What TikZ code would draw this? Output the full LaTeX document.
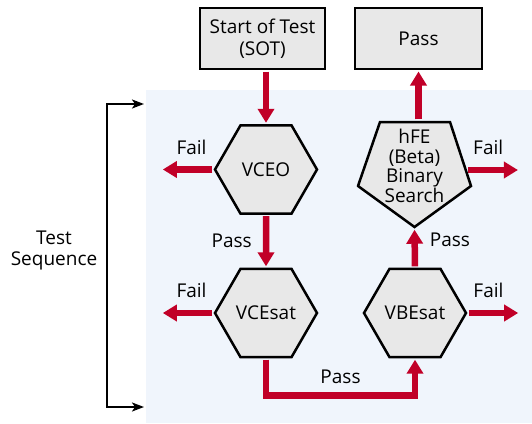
\documentclass[tikz,border=0pt]{standalone}
\usepackage{fontspec}
\setmainfont{Open Sans}
\usetikzlibrary{shapes.geometric,arrows.meta}
\definecolor{flowred}{RGB}{193,0,40}
\definecolor{stepgray}{RGB}{232,232,232}
\definecolor{seqblue}{RGB}{240,245,252}

\begin{document}
\begin{tikzpicture}[x=1pt, y=-1pt, >=Stealth, font=\fontsize{19}{22}\selectfont,
		boxstep/.style={rectangle, draw, line width=2.5pt, fill=stepgray, align=center,
			minimum width=125pt, minimum height=61pt, inner sep=0pt},
		hexstep/.style={regular polygon, regular polygon sides=6, draw, line width=2.5pt,
			fill=stepgray, minimum size=102pt, inner sep=0pt},
		pentstep/.style={rectangle, inner sep=0pt, align=center, minimum width=115.5pt,
			minimum height=107.5pt, font=\fontsize{19}{19.5}\selectfont, text depth=17pt, path picture={
			\draw[line width=2.5pt, fill=stepgray]
				([xshift=23.25pt,yshift=-1.25pt]path picture bounding box.north west)
				-- ([xshift=-22.25pt,yshift=-1.25pt]path picture bounding box.north east)
				-- ([xshift=-1.25pt,yshift=-65.25pt]path picture bounding box.north east)
				-- ([yshift=1.25pt]path picture bounding box.south)
				-- ([xshift=1.25pt,yshift=-65.25pt]path picture bounding box.north west) -- cycle;}},
		flow/.style={draw=flowred, line width=6.5pt, shorten <=1.25pt, shorten >=1.25pt,
			-{Triangle[length=14pt,width=16pt]}},
		flowtext/.style={inner sep=0pt},
		seqline/.style={line width=2pt, {Stealth[length=12pt,width=9pt,inset=3pt]}-{Stealth[length=12pt,width=9pt,inset=3pt]}}]
		\useasboundingbox (0,0) rectangle (532,423);
		% ---------------- test sequence area ----------------
		\fill[seqblue] (146,90) rectangle (532,423);
		\node[align=center, font=\fontsize{19}{21}\selectfont] (seq) at (54,250) {Test\\Sequence};
		\coordinate (seqtop) at (144,104);
		\coordinate (seqbot) at (144,407);
		\draw[seqline] (seqtop) -- ++(-37,0) |- (seqbot);
		% ---------------- steps ----------------
		\node[boxstep] (sot) at (262.5,38.5) {Start of Test\\(SOT)};
		\node[boxstep, minimum width=127pt] (pass) at (418.5,38.5) {Pass};
		\node[hexstep] (vceo) at (266,169.5) {VCEO};
		\node[hexstep] (vcesat) at (266,313) {VCEsat};
		\node[hexstep] (vbesat) at (415,313) {VBEsat};
		\node[pentstep] (hfe) at (414.5,174.5) {hFE\\(Beta)\\Binary\\Search};
		% pass path
		\draw[flow] (sot.south -| vceo.north) -- (vceo.north);
		\draw[flow] (vceo.south) -- (vcesat.north) node[flowtext, midway, left=11pt] (pass1) {Pass};
		\draw[flow] (vcesat.south) -- ++(0,37) -| (vbesat.south) node[flowtext, pos=0.25, above=8pt] (pass2) {Pass};
		\draw[flow] (vbesat.north) -- (hfe.south) node[flowtext, pos=0.7, right=12pt] (pass3) {Pass};
		\draw[flow] (hfe.north -| pass.south) -- (pass.south);
		% fail exits
		\draw[flow] (vceo.west) -- ++(-52,0) node[flowtext, midway, above=12pt, xshift=4pt] (fail1) {Fail};
		\draw[flow] (vcesat.west) -- ++(-52,0) node[flowtext, midway, above=12pt, xshift=4pt] (fail2) {Fail};
		\draw[flow] ([xshift=-5.25pt,yshift=4.5pt]hfe.east) -- ++(52,0) node[flowtext, midway, above=12pt, xshift=-5pt] (fail3) {Fail};
		\draw[flow] (vbesat.east) -- ++(52,0) node[flowtext, midway, above=12pt, xshift=-5pt] (fail4) {Fail};
	\end{tikzpicture}
\end{document}
